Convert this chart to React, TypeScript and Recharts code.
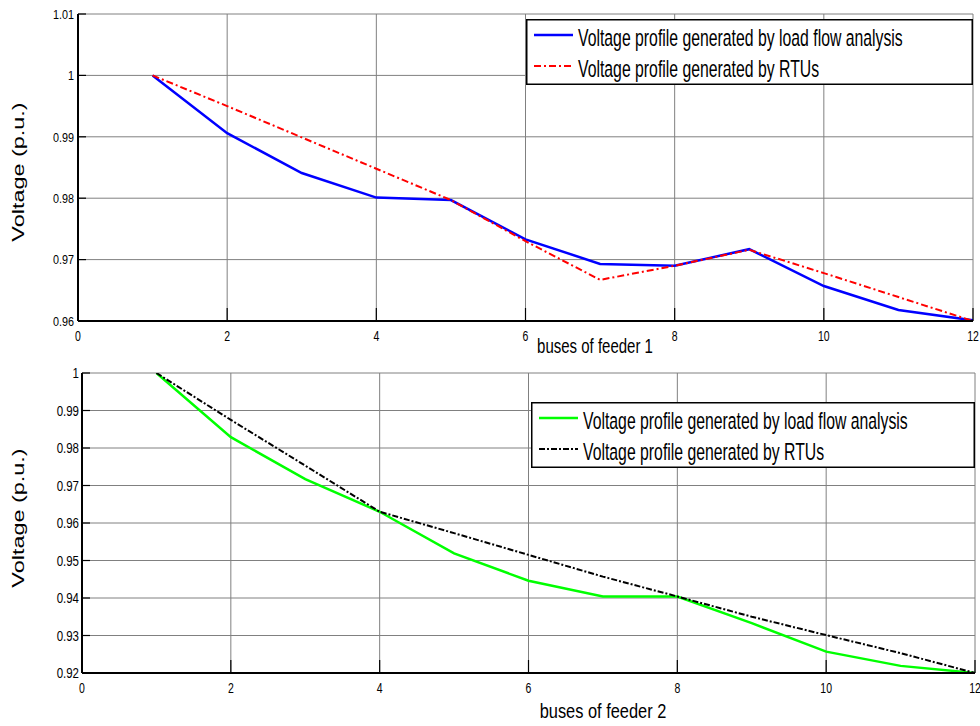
import { LineChart, Line, XAxis, YAxis, CartesianGrid, Legend } from 'recharts';

const FONT = "'Liberation Sans', Arial, sans-serif";

// bus numbers along both feeders
const buses = [1, 2, 3, 4, 5, 6, 7, 8, 9, 10, 11, 12];
const xTicks = [0, 2, 4, 6, 8, 10, 12];

const feeder1Ticks = [0.96, 0.97, 0.98, 0.99, 1, 1.01];
const feeder1LoadFlow = [1.0, 0.9906, 0.9841, 0.9801, 0.9797, 0.9733, 0.9693, 0.969, 0.9717, 0.9657, 0.9618, 0.9601];
const feeder1Rtu = [1.0, 0.995, 0.9899, 0.9848, 0.9797, 0.973, 0.9667, 0.969, 0.9716, 0.9678, 0.9639, 0.96];

const feeder2Ticks = [0.92, 0.93, 0.94, 0.95, 0.96, 0.97, 0.98, 0.99, 1];
const feeder2LoadFlow = [1.0, 0.9829, 0.9717, 0.963, 0.9519, 0.9446, 0.9404, 0.9404, 0.9333, 0.9257, 0.9219, 0.92];
const feeder2Rtu = [1.0, 0.9875, 0.9753, 0.963, 0.9573, 0.9515, 0.9457, 0.9404, 0.935, 0.9301, 0.9253, 0.92];

const LF_NAME = 'Voltage profile generated by load flow analysis';
const RTU_NAME = 'Voltage profile generated by RTUs';

type Series = { key: string; name: string; color: string; width: number; dash?: string };

const feeder1Series: Series[] = [
    { key: 'lf', name: LF_NAME, color: '#0000ff', width: 2.5 },
    { key: 'rtu', name: RTU_NAME, color: '#ff0000', width: 2, dash: '7 3 2 3' },
];
const feeder2Series: Series[] = [
    { key: 'lf', name: LF_NAME, color: '#00ff00', width: 2.5 },
    { key: 'rtu', name: RTU_NAME, color: '#000000', width: 2, dash: '6 2 2 2' },
];

const fmt = (v: number) => String(Number(v.toFixed(2)));

function SText(props: { x: number; y: number; size: number; sx?: number; sy?: number; rotate?: number; anchor?: string; children: any }) {
    const { x, y, size, sx = 1, sy = 1, rotate = 0, anchor = 'start' } = props;
    const t = `translate(${x},${y})${rotate ? ` rotate(${rotate})` : ''} scale(${sx},${sy})`;
    return (
        <text transform={t} textAnchor={anchor as any} fontSize={size} fontFamily={FONT} fill="#000">
            {props.children}
        </text>
    );
}

const XTick = (props: any) => {
    const { x, y, payload } = props;
    return (
        <text transform={`translate(${x},${y}) scale(1,1.35)`} textAnchor="middle" dy="0.72em"
            fontSize={10.5} fontFamily={FONT} fill="#000">{payload.value}</text>
    );
};

const YTick = (props: any) => {
    const { x, y, payload, size } = props;
    return (
        <text transform={`translate(${x},${y}) scale(1,1.25)`} textAnchor="end" dy="0.36em"
            fontSize={size} fontFamily={FONT} fill="#000">{fmt(payload.value)}</text>
    );
};

function LegendBox({ series, width, height }: { series: Series[]; width: number; height: number }) {
    return (
        <svg width={width} height={height} style={{ display: 'block' }}>
            <rect x={0.75} y={0.75} width={width - 1.5} height={height - 1.5} fill="#fff" stroke="#000" strokeWidth={1.5} />
            {series.map((s, i) => (
                <g key={s.key}>
                    <line x1={8} x2={47} y1={16 + i * 31} y2={16 + i * 31} stroke={s.color}
                        strokeWidth={s.width} strokeDasharray={s.dash} />
                    <SText x={52} y={27 + i * 31} size={15.8} sy={1.55}>{s.name}</SText>
                </g>
            ))}
        </svg>
    );
}

type PanelProps = {
    height: number;
    lf: number[];
    rtu: number[];
    yTicks: number[];
    series: Series[];
    margin: { top: number; right: number; bottom: number; left: number };
    yAxisWidth: number;
    yTickSize: number;
    yTickMargin: number;
    xLabel: string;
    xLabelPos: { x: number; y: number; size: number; sy: number };
    yLabelY: number;
    legendBox: { left: number; top: number; width: number; height: number };
};

function Panel(p: PanelProps) {
    const data = buses.map((b, i) => ({ bus: b, lf: p.lf[i], rtu: p.rtu[i] }));
    const yDomain = [p.yTicks[0], p.yTicks[p.yTicks.length - 1]];
    const edge = { stroke: '#000', strokeWidth: 2 };
    const tickLn = { stroke: '#000', strokeWidth: 1.2 };
    return (
        <LineChart width={980} height={p.height} data={data} margin={p.margin}>
            <CartesianGrid stroke="#808080" strokeWidth={1} />
            <XAxis dataKey="bus" type="number" domain={[0, 12]} ticks={xTicks} interval={0} allowDataOverflow
                height={30} tickSize={-13} tickMargin={23} tickLine={tickLn} axisLine={edge} tick={<XTick />}
                label={() => (
                    <SText x={p.xLabelPos.x} y={p.xLabelPos.y} size={p.xLabelPos.size} sy={p.xLabelPos.sy} anchor="middle">
                        {p.xLabel}
                    </SText>
                )} />
            <XAxis xAxisId="top" orientation="top" dataKey="bus" type="number" domain={[0, 12]} ticks={xTicks}
                interval={0} allowDataOverflow height={0} tickSize={-13} tick={false} tickLine={tickLn} axisLine={edge} />
            <YAxis type="number" domain={yDomain} ticks={p.yTicks} interval={0} allowDataOverflow width={p.yAxisWidth}
                tickSize={-8} tickMargin={p.yTickMargin} tickLine={tickLn} axisLine={edge}
                tick={<YTick size={p.yTickSize} />}
                label={() => (
                    <SText x={23.5} y={p.yLabelY} size={16.5} sx={1.42} rotate={-90} anchor="middle">Voltage (p.u.)</SText>
                )} />
            <YAxis yAxisId="right" orientation="right" type="number" domain={yDomain} ticks={p.yTicks} interval={0}
                allowDataOverflow width={0} tickSize={-8} tick={false} tickLine={tickLn} axisLine={edge} />
            <Legend layout="horizontal" align="center" verticalAlign="middle"
                wrapperStyle={{ position: 'absolute', left: p.legendBox.left, top: p.legendBox.top, width: p.legendBox.width, height: p.legendBox.height }}
                content={() => <LegendBox series={p.series} width={p.legendBox.width} height={p.legendBox.height} />} />
            {p.series.map((s) => (
                <Line key={s.key} dataKey={s.key} name={s.name} type="linear" stroke={s.color} strokeWidth={s.width}
                    strokeDasharray={s.dash} dot={false} activeDot={false} isAnimationActive={false} />
            ))}
        </LineChart>
    );
}

export default function App() {
    return (
        <div style={{ position: 'absolute', left: 0, top: 0, width: 980, height: 726, background: '#fff' }}>
            <Panel height={360} lf={feeder1LoadFlow} rtu={feeder1Rtu} yTicks={feeder1Ticks} series={feeder1Series}
                margin={{ top: 14, right: 7, bottom: 9, left: 0 }} yAxisWidth={78} yTickSize={10.8} yTickMargin={12}
                xLabel="buses of feeder 1" xLabelPos={{ x: 595, y: 353, size: 15, sy: 1.38 }} yLabelY={172}
                legendBox={{ left: 526, top: 19, width: 447, height: 66 }} />
            <Panel height={366} lf={feeder2LoadFlow} rtu={feeder2Rtu} yTicks={feeder2Ticks} series={feeder2Series}
                margin={{ top: 13, right: 5, bottom: 23, left: 0 }} yAxisWidth={82} yTickSize={11.5} yTickMargin={11}
                xLabel="buses of feeder 2" xLabelPos={{ x: 603, y: 358, size: 16.4, sy: 1.25 }} yLabelY={158}
                legendBox={{ left: 531, top: 42, width: 444, height: 66 }} />
        </div>
    );
}
